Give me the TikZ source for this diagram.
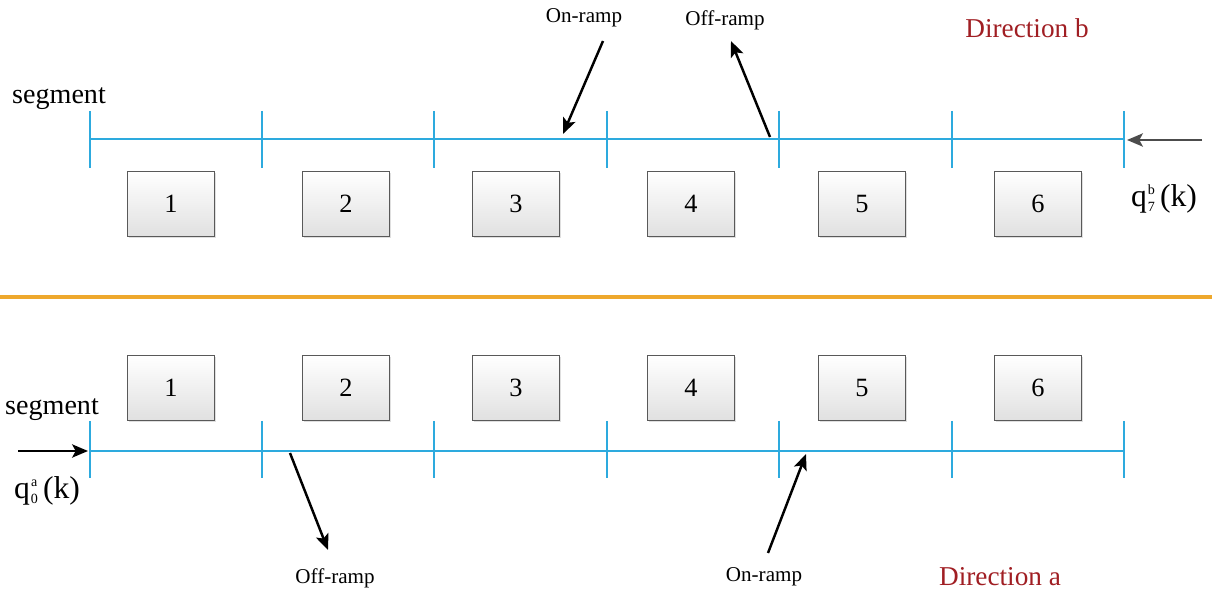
\documentclass[tikz,border=0pt]{standalone}
\usepackage{fontspec}
\setmainfont{Liberation Serif}
\usetikzlibrary{arrows.meta,shadows,calc}
\definecolor{roadblue}{RGB}{45,170,222}
\definecolor{sepor}{RGB}{238,168,45}
\definecolor{dirred}{RGB}{160,30,35}
\newcommand{\supsub}[2]{\hspace{0.5pt}\raisebox{-3pt}{\fontsize{8}{8}\selectfont\begin{tabular}[b]{@{}c@{}}#1\\[1.5pt]#2\end{tabular}}}
\tikzset{
  road/.style={draw=roadblue,line width=1.4pt},
  segbox/.style={draw=black!65,line width=0.6pt,top color=white,bottom color=black!12,
    minimum width=87*0.02cm,minimum height=65*0.02cm,inner sep=0pt,
    drop shadow={opacity=0.25,shadow xshift=0.8pt,shadow yshift=-0.8pt},
    font=\fontsize{15}{15}\selectfont},
  ramp/.style={line width=1.4pt,-{Stealth[length=9pt,width=7.5pt,inset=2pt]}},
  ramplabel/.style={font=\fontsize{12}{12}\selectfont,inner sep=1pt},
  seglabel/.style={font=\fontsize{16}{16}\selectfont,inner sep=1pt},
  dirlabel/.style={font=\fontsize{15.5}{15.5}\selectfont,text=dirred,inner sep=1pt},
  qlabel/.style={font=\fontsize{18}{18}\selectfont,inner sep=1pt},
}
\begin{document}
\begin{tikzpicture}[x=0.02cm,y=-0.02cm]
\useasboundingbox (0,0) rectangle (1224,594);
% tick positions
\foreach \i/\x in {0/90,1/262,2/434,3/607,4/779,5/952,6/1124}{
  \coordinate (T\i) at (\x,139);
  \coordinate (B\i) at (\x,451);
}
% ---- Direction b (top)
\draw[road] (T0) -- (T6);
\foreach \i in {0,...,6}{
  \draw[road] ($(T\i)+(0,-28)$) -- ($(T\i)+(0,29)$);
  \draw[road] ($(B\i)+(0,-30)$) -- ($(B\i)+(0,27)$);
}
\foreach \i/\x in {1/171,2/346,3/516,4/691,5/862,6/1038}{
  \node[segbox] (tb\i) at (\x,204) {\i};
  \node[segbox] (bb\i) at (\x,388) {\i};
}
\node[seglabel] (segt) at (59,99) {segment};
\node[ramplabel] (onrT) at (584,18) {On-ramp};
\node[ramplabel] (offrT) at (725,20) {Off-ramp};
\node[dirlabel] (dirb) at (1027,28) {Direction b};
\coordinate (onTs) at (603,41);
\coordinate (onTe) at (563,134);
\coordinate (offTs) at (770,137);
\coordinate (offTe) at (731,41);
\draw[ramp] (onTs) -- (onTe);
\draw[ramp] (offTs) -- (offTe);
\coordinate (inb) at (1202,140);
\coordinate (inbE) at (1127,140);
\draw[line width=1.4pt,draw=black!70,-{Stealth[length=9pt,width=7.5pt,inset=2pt]}] (inb) -- (inbE);
\node[qlabel] (qb) at (1164,200) {q\supsub{b}{7}\,(k)};
% ---- separator
\coordinate (sepL) at (0,297);
\coordinate (sepR) at (1212,297);
\draw[draw=sepor,line width=2pt] (sepL) -- (sepR);
% ---- Direction a (bottom)
\draw[road] (B0) -- (B6);
\node[seglabel] (segb) at (52,410) {segment};
\coordinate (ina) at (18,451);
\coordinate (inaE) at (88,451);
\draw[ramp] (ina) -- (inaE);
\node[qlabel] (qa) at (47,492) {q\supsub{a}{0}\,(k)};
\coordinate (offBs) at (290,453);
\coordinate (offBe) at (328,550);
\coordinate (onBs) at (768,553);
\coordinate (onBe) at (806,454);
\draw[ramp] (offBs) -- (offBe);
\draw[ramp] (onBs) -- (onBe);
\node[ramplabel] (offrB) at (335,578) {Off-ramp};
\node[ramplabel] (onrB) at (764,577) {On-ramp};
\node[dirlabel] (dira) at (1000,577) {Direction a};
\end{tikzpicture}
\end{document}
